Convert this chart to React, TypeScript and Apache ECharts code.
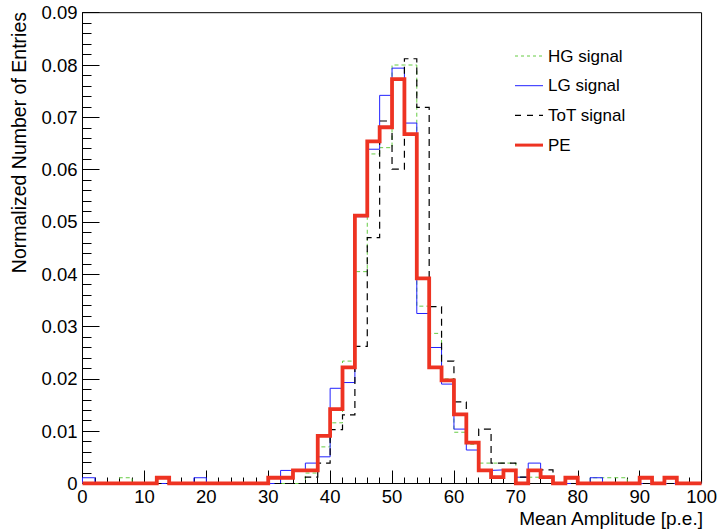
import React, { useEffect, useRef } from 'react';
import * as echarts from 'echarts';

// Histogram: 50 bins of width 2 from 0 to 100 (Mean Amplitude [p.e.])
const X_MIN = 0;
const X_MAX = 100;
const BIN_WIDTH = 2;

const yTickLabels = ['0', '0.01', '0.02', '0.03', '0.04', '0.05', '0.06', '0.07', '0.08', '0.09'];

const hgSignal = [
  0, 0, 0, 0.0011, 0, 0, 0, 0, 0, 0,
  0, 0, 0, 0, 0, 0, 0, 0, 0.002, 0.007,
  0.0116, 0.0234, 0.0405, 0.063, 0.0642, 0.080, 0.080, 0.0339, 0.0287, 0.020,
  0.0098, 0.0075, 0.0039, 0.0039, 0.0039, 0.0012, 0.0012, 0.0012, 0, 0,
  0, 0.0011, 0.0011, 0.0011, 0, 0, 0, 0, 0, 0,
];

const lgSignal = [
  0.0011, 0, 0, 0, 0, 0, 0, 0, 0, 0.0011,
  0, 0, 0, 0, 0, 0, 0.0025, 0.0025, 0.0039, 0.0051,
  0.0182, 0.0193, 0.051, 0.0639, 0.0742, 0.0794, 0.0689, 0.0325, 0.026, 0.019,
  0.0104, 0.0064, 0.0025, 0.0026, 0.0026, 0.0012, 0.0039, 0.0012, 0, 0,
  0, 0.0011, 0, 0, 0, 0, 0, 0, 0, 0,
];

const totSignal = [
  0, 0, 0, 0, 0, 0, 0, 0, 0, 0,
  0, 0, 0, 0, 0, 0, 0, 0, 0.0012, 0.0039,
  0.0103, 0.0131, 0.0262, 0.047, 0.0693, 0.0601, 0.0812, 0.0719, 0.0338, 0.0234,
  0.0156, 0.0078, 0.0104, 0.0039, 0.0039, 0.0012, 0.0026, 0.0026, 0, 0,
  0, 0, 0, 0, 0, 0, 0, 0, 0, 0,
];

const peSignal = [
  0, 0, 0, 0, 0, 0, 0.0011, 0, 0, 0,
  0, 0, 0, 0, 0, 0.0011, 0.0011, 0.0025, 0.0025, 0.0091,
  0.0142, 0.0222, 0.0512, 0.0654, 0.0681, 0.0773, 0.0668, 0.0392, 0.0222, 0.0197,
  0.0132, 0.0078, 0.0025, 0.0012, 0.0025, 0, 0.0025, 0.0012, 0, 0.0011,
  0, 0, 0, 0, 0, 0.0011, 0, 0.0011, 0, 0,
];

const seriesNames = ['HG signal', 'LG signal', 'ToT signal', 'PE'];
const seriesValues = [hgSignal, lgSignal, totSignal, peSignal];

const seriesStyles: { color: string; width: number; dash: number[] | null }[] = [
  { color: '#66cc44', width: 1, dash: [4, 3] },
  { color: '#2222ff', width: 1, dash: null },
  { color: '#000000', width: 1.2, dash: [7, 5] },
  { color: '#ee3322', width: 3.8, dash: null },
];

function histPoints(values: number[]): number[][] {
  const pts: number[][] = [[X_MIN, 0]];
  values.forEach((v, i) => {
    const lo = X_MIN + i * BIN_WIDTH;
    pts.push([lo, v]);
    pts.push([lo + BIN_WIDTH, v]);
  });
  pts.push([X_MAX, 0]);
  return pts;
}

const FONT = '"Liberation Sans", Arial, Helvetica, sans-serif';

export default function App() {
  const ref = useRef<HTMLDivElement>(null);

  useEffect(() => {
    if (!ref.current) return;
    const chart = echarts.init(ref.current, undefined, { renderer: 'svg' });

    const legendLeft = 515;
    const legendTop = 56;
    const legendStep = 29.7;
    const legendGraphics: any[] = [];
    seriesNames.forEach((name, i) => {
      const s = seriesStyles[i];
      const cy = legendTop + i * legendStep;
      legendGraphics.push({
        type: 'line',
        shape: { x1: legendLeft, y1: cy, x2: legendLeft + 28, y2: cy },
        style: {
          stroke: s.color,
          lineWidth: i === 3 ? 3 : s.width,
          lineDash: s.dash ? (i === 2 ? [6, 6] : [3, 3]) : null,
        },
      });
      legendGraphics.push({
        type: 'text',
        x: legendLeft + 33,
        y: cy,
        style: {
          text: name,
          font: `17px ${FONT}`,
          fill: '#000',
          textAlign: 'left',
          textVerticalAlign: 'middle',
        },
      });
    });

    const option: any = {
      animation: false,
      backgroundColor: '#ffffff',
      grid: {
        left: 82.5,
        right: 17,
        top: 12.7,
        bottom: 45.5,
        show: true,
        borderColor: '#000',
        borderWidth: 1,
        containLabel: false,
      },
      xAxis: {
        type: 'value',
        min: X_MIN,
        max: X_MAX,
        interval: 10,
        axisLine: { show: true, lineStyle: { color: '#000', width: 1 } },
        axisTick: { show: true, inside: true, length: 13, lineStyle: { color: '#000' } },
        minorTick: { show: true, splitNumber: 5, length: 6, lineStyle: { color: '#000' } },
        splitLine: { show: false },
        axisLabel: { fontSize: 18.5, color: '#000', fontFamily: FONT, margin: 3 },
      },
      yAxis: {
        type: 'value',
        min: 0,
        max: 0.09,
        interval: 0.01,
        axisLine: { show: true, lineStyle: { color: '#000', width: 1 } },
        axisTick: { show: true, inside: true, length: 17, lineStyle: { color: '#000' } },
        minorTick: { show: true, splitNumber: 5, length: 9, lineStyle: { color: '#000' } },
        splitLine: { show: false },
        axisLabel: {
          fontSize: 18.5,
          color: '#000',
          fontFamily: FONT,
          margin: 5,
          formatter: (v: number) => yTickLabels[Math.round(v / 0.01)] ?? String(v),
        },
      },
      graphic: [
        {
          type: 'text',
          x: 19,
          y: 12,
          rotation: Math.PI / 2,
          style: {
            text: 'Normalized Number of Entries',
            font: `19.5px ${FONT}`,
            fill: '#000',
            textAlign: 'right',
            textVerticalAlign: 'middle',
          },
        },
        {
          type: 'text',
          x: 703,
          y: 518,
          style: {
            text: 'Mean Amplitude [p.e.]',
            font: `19px ${FONT}`,
            fill: '#000',
            textAlign: 'right',
            textVerticalAlign: 'middle',
          },
        },
        ...legendGraphics,
      ],
      series: seriesNames.map((name, i) => ({
        name,
        type: 'line',
        data: histPoints(seriesValues[i]),
        symbol: 'none',
        color: seriesStyles[i].color,
        lineStyle: {
          color: seriesStyles[i].color,
          width: seriesStyles[i].width,
          type: seriesStyles[i].dash ?? 'solid',
          join: 'miter',
        },
        z: 2 + i,
      })),
    };

    chart.setOption(option);
    return () => chart.dispose();
  }, []);

  return (
    <div
      ref={ref}
      style={{ position: 'fixed', left: 0, top: 0, width: 720, height: 529, background: '#fff' }}
    />
  );
}
